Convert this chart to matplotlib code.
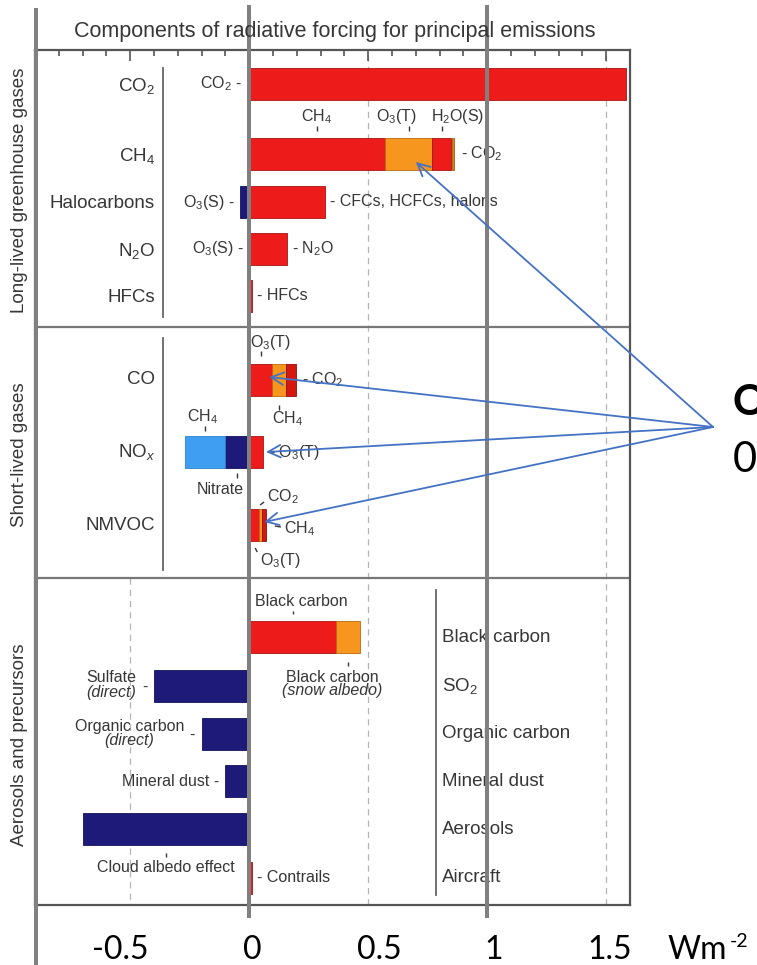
import matplotlib
matplotlib.use('Agg')
import matplotlib.pyplot as plt
import numpy as np

plt.rcParams['font.family'] = 'Liberation Sans'
plt.rcParams['mathtext.fontset'] = 'custom'
plt.rcParams['mathtext.rm'] = 'Liberation Sans'
plt.rcParams['mathtext.it'] = 'Liberation Sans:italic'
plt.rcParams['mathtext.bf'] = 'Liberation Sans:bold'

RED = '#ee1b1b'
DRED = '#d4170f'
ORANGE = '#f7961e'
DORANGE = '#e2820f'
NAVY = '#1d1a7a'
LBLUE = '#3f9ef2'
LILAC = '#8d82d8'
EDGE = {RED: '#a51414', DRED: '#8f100a', ORANGE: '#b9690f', DORANGE: '#a55d0b',
        NAVY: '#14125a', LBLUE: '#2f7fc8', LILAC: '#6a60b0'}
TXT = '#363636'

# ---- data, W m-2 ----
ghg_rows = ['CO$_2$', 'CH$_4$', 'Halocarbons', 'N$_2$O', 'HFCs']
co2_parts = [1.585]
ch4_parts = [0.57, 0.20, 0.08, 0.012]    # CH4, O3(T), H2O(S), CO2
halo_pos = [0.32]                        # CFCs, HCFCs, halons
halo_neg = [-0.04]                       # O3(S)
n2o_pos = [0.16]
n2o_neg = [-0.006]                       # O3(S)
hfc_pos = [0.012]

slg_rows = ['CO', 'NO$_x$', 'NMVOC']
co_parts = [0.097, 0.058, 0.042]         # O3(T), CH4, CO2
nox_pos = [0.059]                        # O3(T)
nox_neg = [-0.10, -0.17]                 # nitrate, CH4
nmvoc_parts = [0.042, 0.013, 0.015]      # O3(T), CH4, CO2

aer_rows = ['Black carbon', 'SO$_2$', 'Organic carbon', 'Mineral dust', 'Aerosols', 'Aircraft']
bc_parts = [0.365, 0.10]                 # black carbon, snow albedo
sulfate = [-0.40]
org_carbon = [-0.20]
dust = [-0.10]
cloud_albedo = [-0.70]
contrails = [0.01]

scale_vals = [-0.5, 0, 0.5, 1, 1.5]
scale_labels = ['-0.5', '0', '0.5', '1', '1.5']

# ---- layout (y = pixels below top of the frame) ----
XMIN, XMAX = -0.9, 1.6
AX_W, AX_H = 595, 855
px = (XMAX - XMIN) / AX_W
BAR_H = 32
HB = BAR_H / 2
Y_GHG = [34, 104, 152, 199, 246]
Y_SLG = [330, 402, 475]
Y_AER = [587, 636, 684, 731, 779, 828]
DIVIDERS = [277, 528]
SMALL = 11.5
BIG = 13.5

fig = plt.figure(figsize=(7.57, 9.65), dpi=100)
ax = fig.add_axes([35 / 757, 60 / 965, AX_W / 757, AX_H / 965])
ax.set_xlim(XMIN, XMAX)
ax.set_ylim(AX_H, 0)
ax.set_yticks([])


def stack(y, parts, colors):
    segs = []
    left = 0.0
    for v, c in zip(parts, colors):
        ax.barh(y, v, left=left, height=BAR_H, color=c, edgecolor=EDGE[c],
                linewidth=0.6, zorder=3)
        segs.append((left, left + v))
        left += v
    return segs


def mid(seg):
    return 0.5 * (seg[0] + seg[1])


def note(x, y, s, dx=0, dy=0, size=SMALL, **kw):
    kw.setdefault('ha', 'center')
    kw.setdefault('va', 'center')
    ax.annotate(s, (x, y), xytext=(dx, -dy), textcoords='offset pixels',
                fontsize=size, color=TXT, annotation_clip=False, zorder=5, **kw)


def mark(x, y0, y1, dx0=0, dx1=0):
    ax.plot([x + dx0 * px, x + dx1 * px], [y0, y1], color=TXT, lw=1.0,
            zorder=4, clip_on=False, solid_capstyle='butt')


# grid and frame
dash = dict(color='#b4b4b4', lw=0.9, ls=(0, (5, 4)), zorder=1)
ax.plot([-0.5, -0.5], [DIVIDERS[1], AX_H], **dash)
for v in [0.5, 1.0, 1.5]:
    ax.axvline(v, **dash)
for d in DIVIDERS:
    ax.axhline(d, color='#777777', lw=1.6, zorder=2)
for s in ax.spines.values():
    s.set_color('#555555')
    s.set_linewidth(1.6)
ax.xaxis.set_ticks_position('top')
ax.set_xticks(scale_vals)
ax.set_xticks(np.arange(-0.8, 1.55, 0.1), minor=True)
ax.tick_params(axis='x', which='both', direction='in', labeltop=False,
               labelbottom=False, color='#555555', width=1.2)
ax.tick_params(axis='x', which='major', length=8)
ax.tick_params(axis='x', which='minor', length=4.5)

# ---- long-lived greenhouse gases ----
y = Y_GHG
s = stack(y[0], co2_parts, [RED])
note(0, y[0], 'CO$_2$ -', dx=-7, ha='right')

s = stack(y[1], ch4_parts, [RED, ORANGE, RED, DORANGE])
top = y[1] - HB
for i, lab, dx in [(0, 'CH$_4$', 0), (1, 'O$_3$(T)', -12), (2, 'H$_2$O(S)', 16)]:
    mark(mid(s[i]), top - 12, top - 7)
    note(mid(s[i]), top - 21, lab, dx=dx)
note(s[-1][1], y[1], '- CO$_2$', dx=7, ha='left')

sp = stack(y[2], halo_pos, [RED])
sn = stack(y[2], halo_neg, [NAVY])
note(sn[0][1], y[2], 'O$_3$(S) -', dx=-5, ha='right')
note(sp[0][1], y[2], '- CFCs, HCFCs, halons', dx=5, ha='left')

sp = stack(y[3], n2o_pos, [RED])
sn = stack(y[3], n2o_neg, [LILAC])
note(sn[0][1], y[3], 'O$_3$(S) -', dx=-4, ha='right')
note(sp[0][1], y[3], '- N$_2$O', dx=5, ha='left')

sp = stack(y[4], hfc_pos, [RED])
note(sp[0][1], y[4], '- HFCs', dx=5, ha='left')

# ---- short-lived gases ----
y = Y_SLG
s = stack(y[0], co_parts, [RED, ORANGE, DRED])
top, bot = y[0] - HB, y[0] + HB
mark(mid(s[0]), top - 13, top - 8)
note(mid(s[0]), top - 21, 'O$_3$(T)', dx=10)
mark(mid(s[1]), bot + 9, bot + 14)
note(mid(s[1]), bot + 23, 'CH$_4$', dx=8)
note(s[-1][1], y[0], '- CO$_2$', dx=6, ha='left')

sp = stack(y[1], nox_pos, [RED])
sn = stack(y[1], nox_neg, [NAVY, LBLUE])
top, bot = y[1] - HB, y[1] + HB
mark(mid(sn[1]), top - 10, top - 5)
note(mid(sn[1]), top - 19, 'CH$_4$', dx=-3)
mark(mid(sn[0]), bot + 5, bot + 10)
note(mid(sn[0]), bot + 22, 'Nitrate', dx=-17)
note(sp[0][1], y[1], '- O$_3$(T)', dx=6, ha='left')

s = stack(y[2], nmvoc_parts, [RED, ORANGE, DRED])
top, bot = y[2] - HB, y[2] + HB
mark(mid(s[2]), top - 4, top - 7, dx0=-4, dx1=0)
note(mid(s[2]), top - 12, 'CO$_2$', dx=3, ha='left')
mark(s[2][1], y[2] + 1, y[2] + 2, dx0=9, dx1=15)
note(s[2][1], y[2] + 4, 'CH$_4$', dx=18, ha='left')
mark(mid(s[0]), bot + 7, bot + 11, dx0=1, dx1=3)
note(mid(s[0]), bot + 19, 'O$_3$(T)', dx=6, ha='left')

# ---- aerosols and precursors ----
y = Y_AER
s = stack(y[0], bc_parts, [RED, ORANGE])
top, bot = y[0] - HB, y[0] + HB
mark(mid(s[0]), top - 10, top - 7)
note(mid(s[0]), top - 20, 'Black carbon', dx=9)
mark(mid(s[1]), bot + 9, bot + 13)
note(mid(s[1]), bot + 25, 'Black carbon', dx=-16)
note(mid(s[1]), bot + 38, '(snow albedo)', dx=-16, style='italic')

s = stack(y[1], sulfate, [NAVY])
note(s[0][1], y[1] - 9, 'Sulfate', dx=-43)
note(s[0][1], y[1] + 7, '(direct)', dx=-43, style='italic')
note(s[0][1], y[1] + 1, '-', dx=-9)

s = stack(y[2], org_carbon, [NAVY])
note(s[0][1], y[2] - 7, 'Organic carbon', dx=-72)
note(s[0][1], y[2] + 7, '(direct)', dx=-72, style='italic')
note(s[0][1], y[2] + 1, '-', dx=-10)

s = stack(y[3], dust, [NAVY])
note(s[0][1], y[3], 'Mineral dust -', dx=-6, ha='right')

s = stack(y[4], cloud_albedo, [NAVY])
bot = y[4] + HB
mark(mid(s[0]), bot + 8, bot + 12)
note(mid(s[0]), bot + 23, 'Cloud albedo effect')

s = stack(y[5], contrails, [RED])
note(s[0][1], y[5], '- Contrails', dx=5, ha='left')

# ---- category labels ----
for yy, lab in zip(Y_GHG, ghg_rows):
    note(XMIN, yy + 2, lab, dx=120, size=BIG, ha='right')
for yy, lab in zip(Y_SLG, slg_rows):
    note(XMIN, yy, lab, dx=120, size=BIG, ha='right')
for yy, lab in zip(Y_AER, aer_rows):
    note(XMIN, yy, lab, dx=407, size=BIG, ha='left')
ax.plot([XMIN + 128 * px] * 2, [18, 267], color='#666666', lw=1.3, zorder=2)
ax.plot([XMIN + 128 * px] * 2, [288, 520], color='#666666', lw=1.3, zorder=2)
ax.plot([XMIN + 401 * px] * 2, [540, 845], color='#666666', lw=1.3, zorder=2)

fig.text(335 / 757, 1 - 31 / 965, 'Components of radiative forcing for principal emissions',
         ha='center', va='center', fontsize=15.5, color=TXT)
for yc, lab in [(190, 'Long-lived greenhouse gases'), (455, 'Short-lived gases'),
                (745, 'Aerosols and precursors')]:
    fig.text(20 / 757, 1 - yc / 965, lab, rotation=90, ha='center', va='center',
             fontsize=BIG, color=TXT)

# ---- overlay: thick grey guide lines, scale and arrows ----
GUIDE = '#808080'
ax.plot([XMIN + 1 * px] * 2, [-40, 915], color=GUIDE, lw=2.9, zorder=10, clip_on=False)
for v in [0, 1]:
    ax.plot([v, v], [-43, 866], color=GUIDE, lw=2.9, zorder=10, clip_on=False)

label_px = [120, 252, 379, 494, 610]
BASE = 1 - 959 / 965
for xp, lab in zip(label_px, scale_labels):
    fig.text(xp / 757, BASE, lab, ha='center', va='baseline',
             fontfamily='Lato', fontsize=23, color='black')
fig.text(668 / 757, BASE, 'Wm', ha='left', va='baseline',
         fontfamily='Lato', fontsize=23, color='black')
fig.text(730 / 757, 1 - 947 / 965, '-2', ha='left', va='baseline',
         fontfamily='Lato', fontsize=14, color='black')

fig.text(733 / 757, 1 - 415 / 965, 'O', ha='left', va='baseline', fontfamily='Lato',
         fontweight='bold', fontsize=30, color='black')
fig.text(733 / 757, 1 - 472 / 965, '0', ha='left', va='baseline', fontfamily='Lato',
         fontsize=30, color='black')

ARROW = '#4472c4'
arrow_targets = [(0.70, Y_GHG[1] + 8), (0.084, Y_SLG[0] - 3),
                 (0.071, Y_SLG[1]), (0.063, Y_SLG[2] - 3)]
for xt, yt in arrow_targets:
    ax.annotate('', xy=(xt, yt), xycoords='data', xytext=(713, 965 - 427),
                textcoords='figure pixels', annotation_clip=False,
                arrowprops=dict(arrowstyle='->,head_length=0.9,head_width=0.45',
                                color=ARROW, lw=1.3, shrinkA=0, shrinkB=0),
                zorder=12)

fig.savefig('out.png', dpi=100)
